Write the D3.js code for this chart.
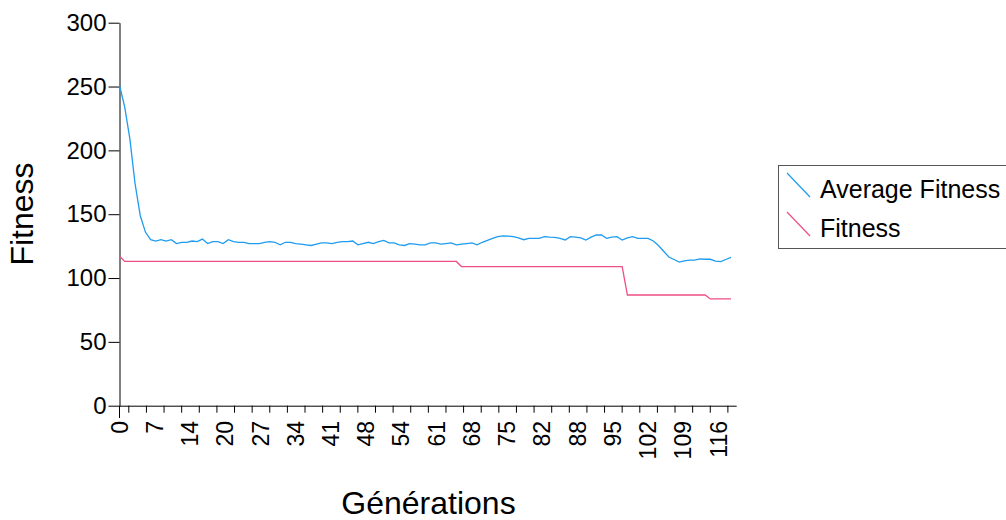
<!DOCTYPE html>
<html>
<head>
<meta charset="utf-8">
<script src="https://cdn.jsdelivr.net/npm/d3@7"></script>
<style>
  html, body { margin: 0; padding: 0; background: #fff; }
  svg text { font-family: "Liberation Sans", Arial, sans-serif; fill: #000; }
</style>
</head>
<body>
<svg id="chart"></svg>
<script>

/////////////////////////////////
// DATA
//////////////////////////////////

// generations 0..118
var generations = d3.range(0, 119);

var averageFitness = [
  251, 234, 209, 174, 149, 136, 130, 129, 130, 129,
  130, 127, 128, 128, 129, 128.5, 130.5, 127, 128.5, 128.5,
  127, 130, 128.5, 128, 128, 127, 127, 127, 128, 128.5,
  128, 126, 128, 128, 127, 126.5, 126, 125.5, 126.5, 127.5,
  127.5, 127, 128, 128.5, 128.5, 129, 126, 127, 128, 127,
  128.5, 129.5, 127.5, 127.5, 126, 125.5, 127, 126.5, 126, 126,
  127.5, 127.5, 126.5, 127, 127.5, 126, 126.5, 127, 127.5, 126,
  128, 129.5, 131, 132.5, 133, 132.9, 132.4, 131.5, 130, 131,
  131, 131, 132.4, 132, 131.9, 131, 129.8, 132.4, 132, 131.5,
  129.8, 132, 133.7, 133.7, 131.1, 132, 132.4, 129.8, 131.5, 132.4,
  131, 131.1, 131, 129, 125.5, 121, 116.5, 114.5, 112.5, 113.5,
  114.1, 114, 115, 114.7, 114.7, 113.3, 112.8, 114.5, 116.2
];

var bestFitness = [
  117, 113, 113, 113, 113, 113, 113, 113, 113, 113,
  113, 113, 113, 113, 113, 113, 113, 113, 113, 113,
  113, 113, 113, 113, 113, 113, 113, 113, 113, 113,
  113, 113, 113, 113, 113, 113, 113, 113, 113, 113,
  113, 113, 113, 113, 113, 113, 113, 113, 113, 113,
  113, 113, 113, 113, 113, 113, 113, 113, 113, 113,
  113, 113, 113, 113, 113, 113, 109, 109, 109, 109,
  109, 109, 109, 109, 109, 109, 109, 109, 109, 109,
  109, 109, 109, 109, 109, 109, 109, 109, 109, 109,
  109, 109, 109, 109, 109, 109, 109, 109, 86.7, 86.7,
  86.7, 86.7, 86.7, 86.7, 86.7, 86.7, 86.7, 86.7, 86.7, 86.7,
  86.7, 86.7, 86.7, 86.7, 83.6, 83.6, 83.6, 83.6, 83.6
];

// x labels sit every 6.8 generations, minor ticks every 3.4
var xLabelPos = [0, 6.8, 13.6, 20.4, 27.2, 34, 40.8, 47.6, 54.4, 61.2, 68, 74.8, 81.6, 88.4, 95.2, 102, 108.8, 115.6];
var xLabels = ["0", "7", "14", "20", "27", "34", "41", "48", "54", "61", "68", "75", "82", "88", "95", "102", "109", "116"];
var xMinorPos = d3.range(35).map(function(k) { return 1.7 + 3.4 * k; });

var yTicks = [0, 50, 100, 150, 200, 250, 300];

var series = [
  { name: "Average Fitness", values: averageFitness, color: "#1f9cf0" },
  { name: "Fitness", values: bestFitness, color: "#ee4f84" }
];

/////////////////////////////////
// SETUP
//////////////////////////////////

var width = 1006;
var height = 520;

var svg = d3.select("#chart")
    .attr("width", width)
    .attr("height", height);

var x = d3.scaleLinear()
    .domain([0, 119])
    .range([119.5, 736.2]);

var y = d3.scaleLinear()
    .domain([0, 300])
    .range([405.7, 22.7]);

/////////////////////////////////
// AXES
//////////////////////////////////

// y axis
var yAxis = svg.append("g")
    .attr("transform", "translate(" + x(0) + ",0)")
    .call(d3.axisLeft(y).tickValues(yTicks).tickSize(11).tickSizeOuter(0).tickPadding(2));

yAxis.selectAll("text")
    .style("font-size", "24px");

// y axis continues a bit below zero
svg.append("line")
    .attr("x1", x(0)).attr("x2", x(0))
    .attr("y1", y(0)).attr("y2", 418)
    .attr("stroke", "#000");

// x axis: minor ticks
svg.append("g")
    .attr("transform", "translate(0," + y(0) + ")")
    .call(d3.axisBottom(x).tickValues(xMinorPos).tickSize(7).tickSizeOuter(0).tickFormat(""));

// x axis: labels
var xLab = svg.append("g")
    .attr("class", "xlabels")
    .selectAll("text")
    .data(xLabelPos)
    .enter().append("text")
    .attr("transform", function(d) { return "translate(" + x(d) + ",421) rotate(-90)"; })
    .attr("text-anchor", "end")
    .attr("dy", "0.35em")
    .style("font-size", "23px")
    .text(function(d, i) { return xLabels[i]; });

svg.selectAll(".domain, .tick line").attr("stroke", "#000");

// axis titles
svg.append("text")
    .attr("transform", "translate(33,214) rotate(-90)")
    .attr("text-anchor", "middle")
    .style("font-size", "32px")
    .text("Fitness");

svg.append("text")
    .attr("x", 428.5)
    .attr("y", 514)
    .attr("text-anchor", "middle")
    .style("font-size", "32px")
    .text("Générations");

/////////////////////////////////
// LINES
//////////////////////////////////

var line = d3.line()
    .x(function(d, i) { return x(generations[i]); })
    .y(function(d) { return y(d); });

series.forEach(function(s) {
    svg.append("path")
        .datum(s.values)
        .attr("fill", "none")
        .attr("stroke", s.color)
        .attr("stroke-width", 1.3)
        .attr("d", line);
});

/////////////////////////////////
// LEGEND
//////////////////////////////////

var legend = svg.append("g");

legend.append("rect")
    .attr("x", 778.5)
    .attr("y", 165.5)
    .attr("width", 240)
    .attr("height", 83)
    .attr("fill", "none")
    .attr("stroke", "#555");

var legendRows = legend.selectAll(".row")
    .data(series)
    .enter().append("g")
    .attr("transform", function(d, i) { return "translate(0," + (i * 39) + ")"; });

legendRows.append("line")
    .attr("x1", 787).attr("y1", 173)
    .attr("x2", 810).attr("y2", 197)
    .attr("stroke", function(d) { return d.color; })
    .attr("stroke-width", 1.2);

legendRows.append("text")
    .attr("x", 820)
    .attr("y", 198)
    .style("font-size", "25px")
    .text(function(d) { return d.name; });

</script>
</body>
</html>
